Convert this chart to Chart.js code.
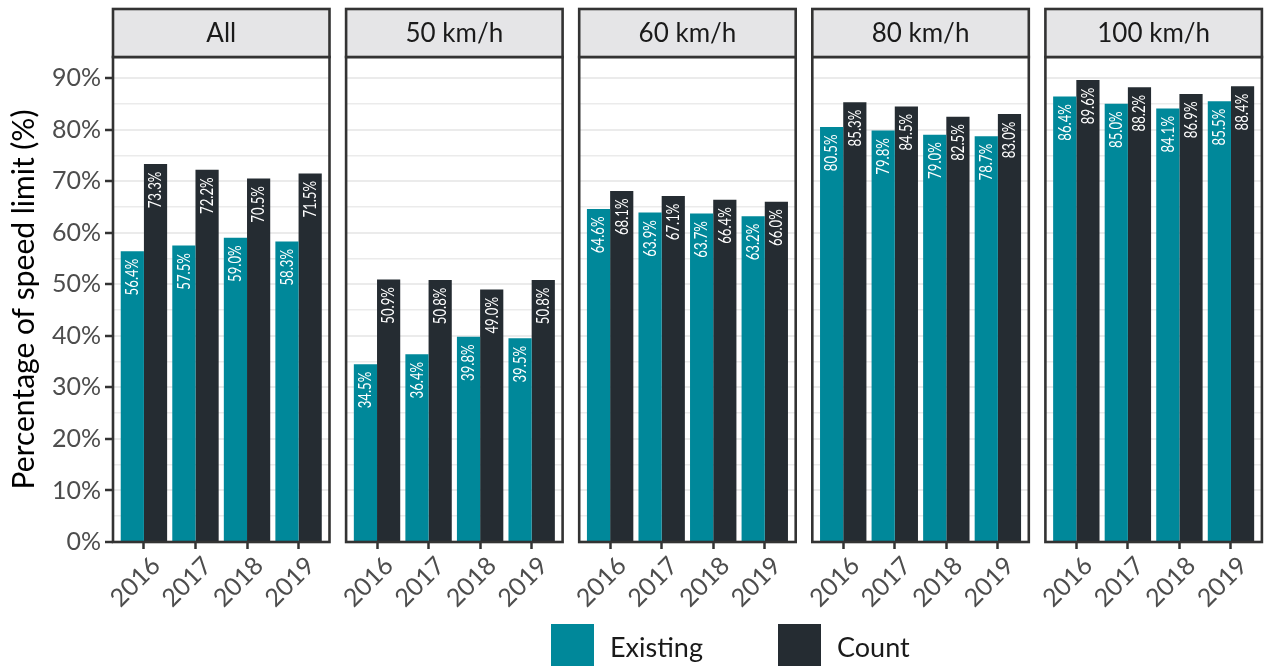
<!DOCTYPE html>
<html><head><meta charset="utf-8">
<script src="https://cdn.jsdelivr.net/npm/chart.js@4.4.1/dist/chart.umd.min.js"></script>
<style>
html,body{margin:0;padding:0;background:#fff;}
#wrap{position:relative;width:1264px;height:666px;overflow:hidden;font-family:Lato,sans-serif;}
#wrap canvas{position:absolute;left:0;top:0;}
.sw{position:absolute;width:43px;height:42px;}
.lt{position:absolute;font-size:27px;color:#1a1a1a;line-height:30px;}
</style></head><body>
<div id="wrap"></div>
<script>
// ---- data ----
const panels = ['All', '50 km/h', '60 km/h', '80 km/h', '100 km/h'];
const years = ['2016', '2017', '2018', '2019'];
const seriesNames = ['Existing', 'Count'];
const seriesColors = ['#00889A', '#252C32'];

const existingAll = [56.4, 57.5, 59.0, 58.3];
const countAll    = [73.3, 72.2, 70.5, 71.5];
const existing50  = [34.5, 36.4, 39.8, 39.5];
const count50     = [50.9, 50.8, 49.0, 50.8];
const existing60  = [64.6, 63.9, 63.7, 63.2];
const count60     = [68.1, 67.1, 66.4, 66.0];
const existing80  = [80.5, 79.8, 79.0, 78.7];
const count80     = [85.3, 84.5, 82.5, 83.0];
const existing100 = [86.4, 85.0, 84.1, 85.5];
const count100    = [89.6, 88.2, 86.9, 88.4];

const existingByPanel = [existingAll, existing50, existing60, existing80, existing100];
const countByPanel = [countAll, count50, count60, count80, count100];

const yMajorTicks = [0, 10, 20, 30, 40, 50, 60, 70, 80, 90];
const yMinorTicks = [5, 15, 25, 35, 45, 55, 65, 75, 85];
const yMax = 94.08;
const yTitle = 'Percentage of speed limit (%)';

// ---- layout ----
const W = 1264, H = 666;
const P_LEFT0 = 113, P_STEP = 233.1, P_W = 216.5;
const P_TOP = 57, P_BOTTOM = 542, STRIP_TOP = 9;
const BORDER = '#333333';
const FONT = 'Lato';

const wrap = document.getElementById('wrap');

const panelPlugin = {
  id: 'panelDeco',
  afterDatasetsDraw(chart, args, opts) {
    const ctx = chart.ctx, a = chart.chartArea;
    ctx.save();
    // value labels
    chart.data.datasets.forEach((ds, di) => {
      const meta = chart.getDatasetMeta(di);
      meta.data.forEach((el, j) => {
        const v = ds.data[j].y;
        ctx.save();
        ctx.translate(el.x + 0.5, el.y + 7.5);
        ctx.rotate(-Math.PI / 2);
        ctx.scale(0.8, 1);
        ctx.font = '16.5px ' + FONT;
        ctx.fillStyle = '#ffffff';
        ctx.textAlign = 'right';
        ctx.textBaseline = 'middle';
        ctx.fillText(v.toFixed(1) + '%', 0, 0);
        ctx.restore();
      });
    });
    // panel border
    ctx.strokeStyle = BORDER;
    ctx.lineWidth = 2.6;
    ctx.strokeRect(a.left, a.top, a.right - a.left, a.bottom - a.top);
    // strip
    ctx.fillStyle = '#E5E5E7';
    ctx.fillRect(a.left, STRIP_TOP, a.right - a.left, a.top - STRIP_TOP);
    ctx.strokeRect(a.left, STRIP_TOP, a.right - a.left, a.top - STRIP_TOP);
    ctx.fillStyle = '#1a1a1a';
    ctx.font = '26px ' + FONT;
    ctx.textAlign = 'center';
    ctx.textBaseline = 'middle';
    ctx.fillText(opts.title, (a.left + a.right) / 2, (STRIP_TOP + a.top) / 2 + 1);
    ctx.restore();
  }
};

panels.forEach((pname, i) => {
  const left = P_LEFT0 + P_STEP * i;
  const right = left + P_W;
  const cv = document.createElement('canvas');
  cv.width = W; cv.height = H;
  cv.style.width = W + 'px'; cv.style.height = H + 'px';
  wrap.appendChild(cv);
  const first = i === 0;
  new Chart(cv, {
    type: 'bar',
    data: {
      datasets: [
        { label: seriesNames[0], data: existingByPanel[i].map((v, k) => ({ x: k, y: v })), backgroundColor: seriesColors[0] },
        { label: seriesNames[1], data: countByPanel[i].map((v, k) => ({ x: k, y: v })), backgroundColor: seriesColors[1] }
      ]
    },
    options: {
      responsive: false,
      animation: false,
      devicePixelRatio: 1,
      categoryPercentage: 0.9,
      barPercentage: 1.0,
      borderWidth: 0,
      layout: { padding: { left: first ? 0 : left, right: W - right, top: P_TOP, bottom: 0 } },
      plugins: { legend: { display: false }, tooltip: { enabled: false }, panelDeco: { title: pname } },
      scales: {
        x: {
          type: 'linear',
          min: -0.6, max: years.length - 0.4,
          bounds: 'data',
          offset: false,
          afterBuildTicks: s => { s.ticks = years.map((y, k) => ({ value: k })); },
          afterFit: s => { s.height = H - P_BOTTOM; },
          border: { display: false },
          grid: { display: true, offset: false, drawOnChartArea: false, drawTicks: true, tickLength: 7, tickWidth: 2.5, tickColor: BORDER },
          ticks: {
            autoSkip: false, minRotation: 45, maxRotation: 45, padding: 2, labelOffset: 12,
            color: '#4D4D4D', font: { family: FONT, size: 25 },
            callback: v => years[v]
          }
        },
        y: {
          min: 0, max: yMax, bounds: 'data',
          afterBuildTicks: s => { s.ticks = yMajorTicks.concat(yMinorTicks).sort((p, q) => p - q).map(v => ({ value: v })); },
          afterFit: s => { s.width = first ? P_LEFT0 : 0; },
          border: { display: false },
          grid: {
            color: '#EBEBEB',
            lineWidth: c => (c.tick && yMajorTicks.includes(c.tick.value)) ? 2 : 1.6,
            drawTicks: first, tickLength: 8, tickWidth: 2.5,
            tickColor: c => (c.tick && yMajorTicks.includes(c.tick.value)) ? BORDER : 'rgba(0,0,0,0)'
          },
          ticks: {
            display: first, autoSkip: false, padding: 4,
            color: '#4D4D4D', font: { family: FONT, size: 25 },
            callback: v => yMajorTicks.includes(v) ? v + '%' : ''
          },
          title: {
            display: first, text: yTitle, color: '#000000',
            font: { family: FONT, size: 30 }, padding: { top: 6, bottom: 0 }
          }
        }
      }
    },
    plugins: [panelPlugin]
  });
});

// legend (HTML)
const legX = [551, 778];
seriesNames.forEach((n, k) => {
  const sw = document.createElement('div');
  sw.className = 'sw';
  sw.style.left = legX[k] + 'px'; sw.style.top = '624px';
  sw.style.background = seriesColors[k];
  wrap.appendChild(sw);
  const t = document.createElement('div');
  t.className = 'lt';
  t.textContent = n;
  t.style.left = (legX[k] + 59) + 'px'; t.style.top = '632px';
  wrap.appendChild(t);
});
</script>
</body></html>
